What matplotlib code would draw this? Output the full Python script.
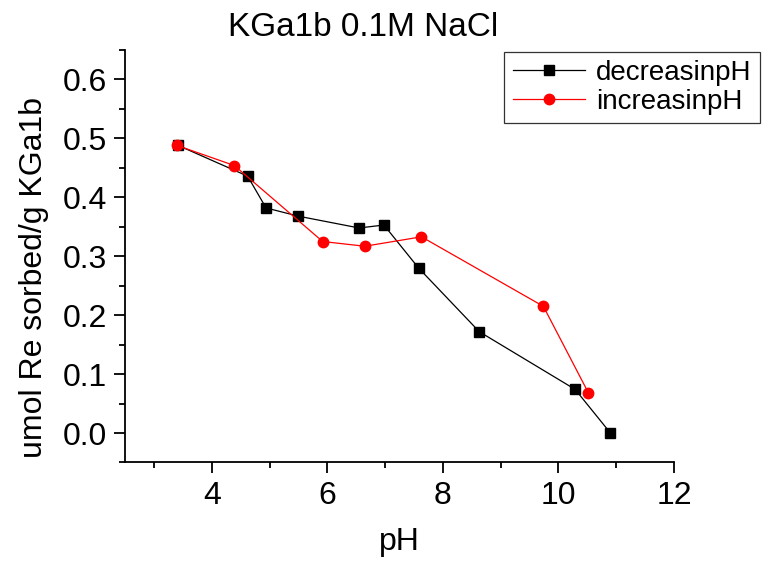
import matplotlib
matplotlib.use("Agg")
import matplotlib.pyplot as plt
from matplotlib.ticker import MultipleLocator

plt.rcParams['font.family'] = ['Liberation Sans', 'DejaVu Sans']

# decreasing pH run
ph_dec = [3.42, 4.62, 4.94, 5.50, 6.55, 6.98, 7.58, 8.63, 10.29, 10.90]
re_dec = [0.488, 0.436, 0.382, 0.368, 0.348, 0.353, 0.280, 0.172, 0.074, 0.000]

# increasing pH run
ph_inc = [3.40, 4.39, 5.92, 6.65, 7.63, 9.74, 10.52]
re_inc = [0.488, 0.454, 0.325, 0.317, 0.333, 0.215, 0.068]

fig = plt.figure(figsize=(7.77, 5.64), dpi=100)
ax = fig.add_axes([0.161, 0.180, 0.7064, 0.7313])

ax.plot(ph_dec, re_dec, color='black', marker='s', markersize=6.5, lw=0.9,
        label='decreasinpH')
ax.plot(ph_inc, re_inc, color='red', marker='o', markersize=7.5, lw=0.9,
        label='increasinpH')

ax.set_xlim(2.5, 12)
ax.set_ylim(-0.05, 0.65)
ax.xaxis.set_major_locator(MultipleLocator(2))
ax.xaxis.set_minor_locator(MultipleLocator(1))
ax.yaxis.set_major_locator(MultipleLocator(0.1))
ax.yaxis.set_minor_locator(MultipleLocator(0.05))
ax.yaxis.set_major_formatter(plt.FuncFormatter(lambda v, p: f'{v:.1f}'))

for s in ['top', 'right']:
    ax.spines[s].set_visible(False)
for s in ['left', 'bottom']:
    ax.spines[s].set_linewidth(1.3)

ax.tick_params(which='major', direction='out', length=8, width=1.3,
               labelsize=23, pad=5)
ax.tick_params(which='minor', direction='out', length=4.5, width=1.3)

ax.set_xlabel('pH', fontsize=23, labelpad=12)
ax.set_ylabel('umol Re sorbed/g KGa1b', fontsize=23)
ax.yaxis.set_label_coords(-0.138, 0.449)
ax.set_title('KGa1b 0.1M NaCl', fontsize=24, pad=10, x=0.434)

leg = ax.legend(loc='upper left', bbox_to_anchor=(0.649, 0.908),
                bbox_transform=fig.transFigure, fontsize=20, frameon=True,
                fancybox=False, handlelength=2.6, borderpad=0.3,
                labelspacing=0.1, handletextpad=0.4, borderaxespad=0)
leg.get_frame().set_edgecolor('black')
leg.get_frame().set_linewidth(0.9)

fig.savefig('out.png', dpi=100)
